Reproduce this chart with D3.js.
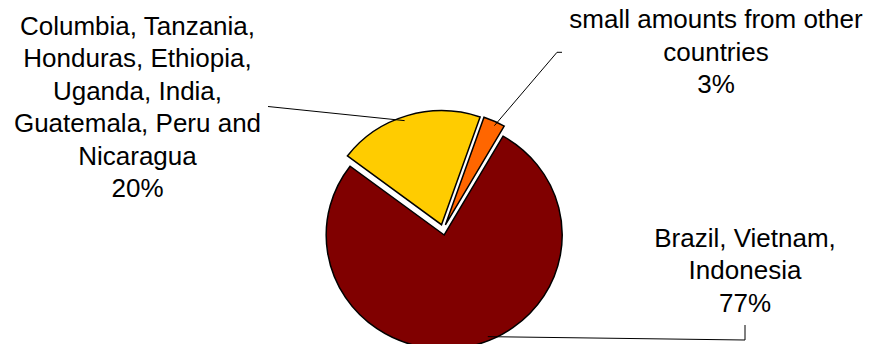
<!DOCTYPE html>
<html>
<head>
<meta charset="utf-8">
<script src="https://cdn.jsdelivr.net/npm/d3@7"></script>
<style>
  html, body { margin: 0; padding: 0; background: #fff; }
  svg { display: block; }
  text { font-family: "Liberation Sans", Arial, sans-serif; fill: #000; }
</style>
</head>
<body>
<svg id="chart" width="874" height="344"></svg>
<script>
// Share of supply by origin (%)
const categories = [
  "Brazil, Vietnam, Indonesia",
  "Columbia, Tanzania, Honduras, Ethiopia, Uganda, India, Guatemala, Peru and Nicaragua",
  "small amounts from other countries"
];
const labelLines = [
  ["Brazil, Vietnam,", "Indonesia"],
  ["Columbia, Tanzania,", "Honduras, Ethiopia,", "Uganda, India,", "Guatemala, Peru and", "Nicaragua"],
  ["small amounts from other", "countries"]
];
const values = [77, 20, 3];
const colors = ["#800000", "#FFCC00", "#FF6600"];

const W = 874, H = 344;
const cx = 443.1, cy = 229.8;    // pie centre
const radius = 118;
const squash = 114 / 118;        // slight vertical flattening of the pie
const explode = 5.5;             // every slice pulled out along its bisector
const fontSize = 26, lineStep = 32.5;

// label layout: centre x, first baseline, leader path start, angle shift of the attach point
const labelLayout = [
  { x: 745, y: 246.7, leader: [[745, 325], [745, 340]], attachShift: -11 },
  { x: 137.5, y: 34.5, leader: [[268, 106.5]], attachShift: -2 },
  { x: 716, y: 28.3, leader: [[562, 52.3], [557, 52.3]], attachShift: 1 }
];

const svg = d3.select("#chart");
const toRad = Math.PI / 180;

const pie = d3.pie().sort(null).value(d => d)
  .startAngle(29.9 * toRad).endAngle(29.9 * toRad + 2 * Math.PI);
const arcs = pie(values);
const arc = d3.arc().innerRadius(0).outerRadius(radius);

const offsetOf = a => {
  const mid = (a.startAngle + a.endAngle) / 2;
  return [explode * Math.sin(mid), -explode * Math.cos(mid)];
};

const g = svg.append("g").attr("transform", `translate(${cx},${cy}) scale(1,${squash})`);

g.selectAll("path.slice")
  .data(arcs)
  .join("path")
  .attr("class", "slice")
  .attr("transform", d => { const o = offsetOf(d); return `translate(${o[0]},${o[1]})`; })
  .attr("d", arc)
  .attr("fill", (d, i) => colors[i])
  .attr("stroke", "#000")
  .attr("stroke-width", 1.5)
  .attr("vector-effect", "non-scaling-stroke")
  .attr("stroke-linejoin", "miter");

// leader lines from each label to its slice
arcs.forEach((a, i) => {
  const o = offsetOf(a);
  const ang = (a.startAngle + a.endAngle) / 2 + labelLayout[i].attachShift * toRad;
  const rr = radius * 0.965;
  const end = [cx + o[0] + rr * Math.sin(ang), cy + squash * (o[1] - rr * Math.cos(ang))];
  const pts = labelLayout[i].leader.concat([end]);
  svg.append("path")
    .attr("d", d3.line()(pts))
    .attr("fill", "none")
    .attr("stroke", "#000")
    .attr("stroke-width", 1);
});

// data labels: name lines followed by the percentage
labelLayout.forEach((L, i) => {
  const lines = labelLines[i].concat([values[i] + "%"]);
  const t = svg.append("text")
    .attr("text-anchor", "middle")
    .attr("font-size", fontSize);
  lines.forEach((s, k) => {
    t.append("tspan").attr("x", L.x).attr("y", L.y + k * lineStep).text(s);
  });
});
</script>
</body>
</html>
